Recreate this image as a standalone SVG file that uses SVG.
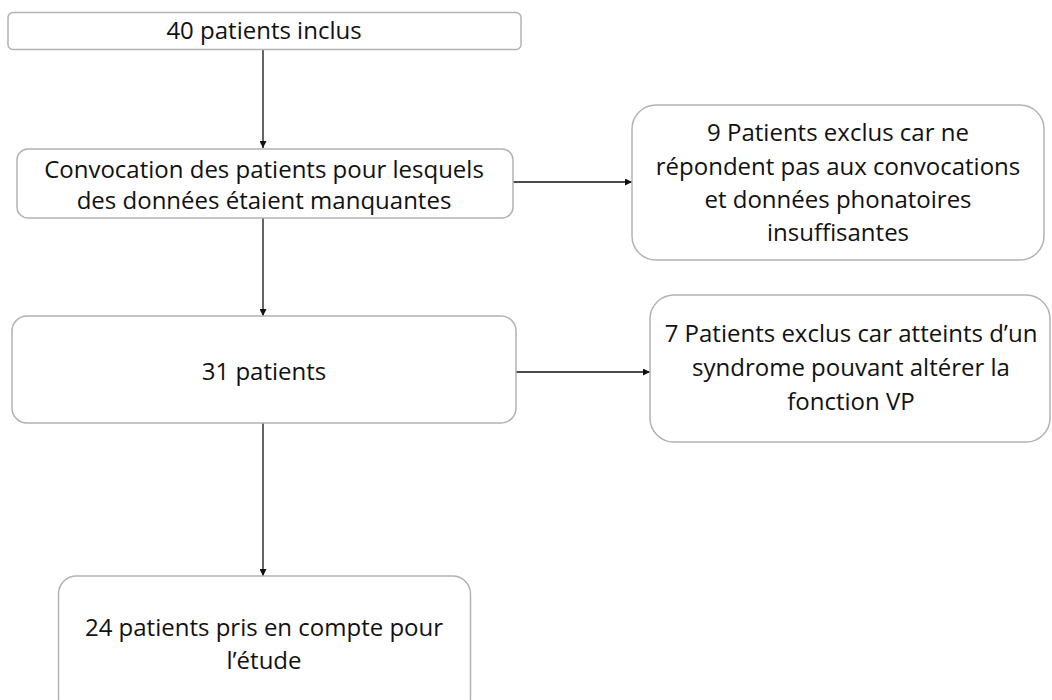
<svg xmlns="http://www.w3.org/2000/svg" width="1052" height="700" viewBox="0 0 1052 700">
<style>
.box{fill:#fff;stroke:#b3b3b3;stroke-width:1.5}
.t{font-family:"Open Sans","Liberation Sans",sans-serif;font-size:24px;fill:#111;text-anchor:middle}
.c{stroke:#111;stroke-width:1.3;fill:none;marker-end:url(#ah)}
</style>
<defs>
<marker id="ah" viewBox="0 0 10 10" refX="10" refY="5" markerWidth="7" markerHeight="7" orient="auto" markerUnits="userSpaceOnUse">
<path d="M0,0 L10,5 L0,10 z" fill="#111"/>
</marker>
</defs>
<rect width="1052" height="700" fill="#fff"/>
<g id="connectors">
<line class="c" x1="263" y1="49" x2="263" y2="148"/>
<line class="c" x1="513" y1="182" x2="632" y2="182"/>
<line class="c" x1="263" y1="218" x2="263" y2="316"/>
<line class="c" x1="516" y1="372" x2="650" y2="372"/>
<line class="c" x1="263" y1="423" x2="263" y2="576"/>
</g>
<g id="n1">
<rect class="box" x="8" y="12.5" width="513" height="37" rx="5"/>
<text class="t" x="264" y="39">40 patients inclus</text>
</g>
<g id="n2">
<rect class="box" x="17" y="149" width="496" height="69" rx="11"/>
<text class="t" x="264" y="178">Convocation des patients pour lesquels</text>
<text class="t" x="264" y="209">des données étaient manquantes</text>
</g>
<g id="n3">
<rect class="box" x="632" y="105" width="412" height="155" rx="24"/>
<text class="t" x="838" y="141">9 Patients exclus car ne</text>
<text class="t" x="838" y="175">répondent pas aux convocations</text>
<text class="t" x="838" y="208">et données phonatoires</text>
<text class="t" x="838" y="241">insuffisantes</text>
</g>
<g id="n4">
<rect class="box" x="12" y="316" width="504" height="107" rx="15"/>
<text class="t" x="264" y="380">31 patients</text>
</g>
<g id="n5">
<rect class="box" x="650" y="295" width="400" height="147" rx="24"/>
<text class="t" x="851" y="342">7 Patients exclus car atteints d’un</text>
<text class="t" x="851" y="376">syndrome pouvant altérer la</text>
<text class="t" x="851" y="410">fonction VP</text>
</g>
<g id="n6">
<rect class="box" x="58.5" y="576" width="412" height="140" rx="18"/>
<text class="t" x="264" y="636">24 patients pris en compte pour</text>
<text class="t" x="264" y="669">l’étude</text>
</g>
</svg>
